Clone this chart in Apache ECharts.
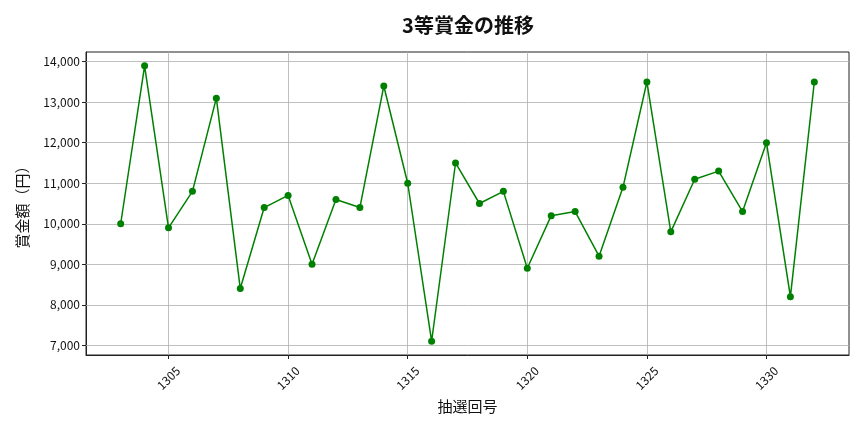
<!DOCTYPE html>
<html>
<head>
<meta charset="utf-8">
<script src="https://cdn.jsdelivr.net/npm/echarts@6/dist/echarts.min.js"></script>
<style>
  html, body { margin: 0; padding: 0; background: #fff; }
  #chart { width: 864px; height: 432px; }
</style>
</head>
<body>
<div id="chart"></div>
<script>
// Data
const rounds = [1303, 1304, 1305, 1306, 1307, 1308, 1309, 1310, 1311, 1312,
                1313, 1314, 1315, 1316, 1317, 1318, 1319, 1320, 1321, 1322,
                1323, 1324, 1325, 1326, 1327, 1328, 1329, 1330, 1331, 1332];
const prizes = [10000, 13900, 9900, 10800, 13100, 8400, 10400, 10700, 9000, 10600,
                10400, 13400, 11000, 7100, 11500, 10500, 10800, 8900, 10200, 10300,
                9200, 10900, 13500, 9800, 11100, 11300, 10300, 12000, 8200, 13500];
const xTicks = [1305, 1310, 1315, 1320, 1325, 1330];
const yTicks = [7000, 8000, 9000, 10000, 11000, 12000, 13000, 14000];

const font = 'Noto Sans CJK JP';
const chart = echarts.init(document.getElementById('chart'));

chart.setOption({
    animation: false,
    textStyle: {fontFamily: font},
    title: {
        text: '3等賞金の推移',
        left: 463,
        textAlign: 'center',
        top: 10,
        textStyle: {fontFamily: font, fontSize: 20, fontWeight: 'bold', color: '#111'}
    },
    grid: {
        left: 86, right: 15, top: 52, bottom: 77,
        show: true, borderColor: '#222', borderWidth: 1, backgroundColor: '#fff'
    },
    xAxis: {
        type: 'value',
        min: 1301.55,
        max: 1333.45,
        name: '抽選回号',
        nameLocation: 'middle',
        nameGap: 44,
        nameTextStyle: {fontFamily: font, fontSize: 15, color: '#111'},
        axisLine: {show: true, lineStyle: {color: '#222', width: 1}},
        axisTick: {show: true, customValues: xTicks, length: 4, lineStyle: {color: '#222'}},
        axisLabel: {
            customValues: xTicks,
            rotate: 45,
            align: 'center',
            verticalAlign: 'middle',
            fontSize: 12,
            color: '#111',
            margin: 23,
            fontFamily: font,
            formatter: v => String(v)
        },
        splitLine: {show: false}
    },
    yAxis: {
        type: 'value',
        min: 6760,
        max: 14240,
        name: '賞金額（円）',
        nameLocation: 'middle',
        nameGap: 56,
        nameTextStyle: {fontFamily: font, fontSize: 15, color: '#111'},
        axisLine: {show: true, lineStyle: {color: '#222', width: 1}},
        axisTick: {show: true, customValues: yTicks, length: 4, lineStyle: {color: '#222'}},
        axisLabel: {
            customValues: yTicks,
            fontSize: 12,
            color: '#111',
            margin: 6,
            fontFamily: font,
            formatter: v => v.toLocaleString('en-US')
        },
        splitLine: {show: false}
    },
    series: [
        {
            type: 'line',
            data: rounds.map((r, i) => [r, prizes[i]]),
            symbol: 'circle',
            symbolSize: 7,
            itemStyle: {color: '#008000'},
            lineStyle: {color: '#008000', width: 1.5},
            z: 3,
            markLine: {
                silent: true,
                symbol: 'none',
                label: {show: false},
                lineStyle: {color: '#b0b0b0', width: 0.8, type: 'solid'},
                z: 1,
                data: xTicks.map(v => ({xAxis: v})).concat(yTicks.map(v => ({yAxis: v})))
            }
        }
    ]
});
</script>
</body>
</html>
